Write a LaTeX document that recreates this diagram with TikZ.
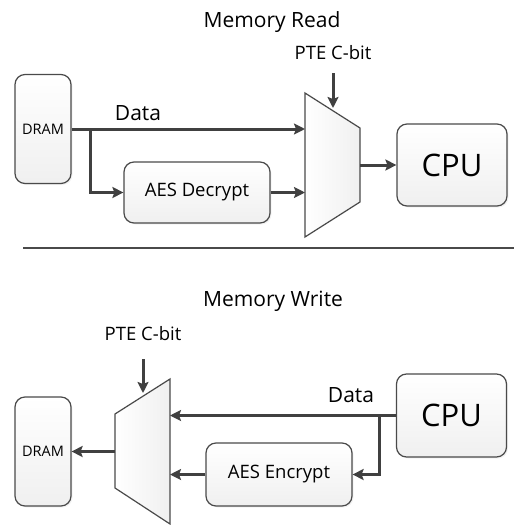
\documentclass[tikz,border=0pt]{standalone}
\usepackage{fontspec}
\setmainfont{Open Sans}
\usetikzlibrary{arrows.meta}
\usetikzlibrary{shadows}

\definecolor{wiregray}{HTML}{404040}
\definecolor{edgegray}{HTML}{4A4A4A}

\begin{document}
\begin{tikzpicture}[x=1pt, y=-1pt,
	block/.style={draw=edgegray, line width=1.2pt, rounded corners=10pt, top color=white, bottom color=black!6,
		inner sep=0pt, drop shadow={opacity=0.1, shadow xshift=1.5pt, shadow yshift=-1.5pt}},
	mux/.style={draw=edgegray, line width=1.2pt, left color=white, right color=black!6},
	flow/.style={draw=wiregray, line width=3pt, -{Stealth[length=11pt, width=11pt, inset=2pt]}},
	bigtext/.style={font=\fontsize{21}{25}\selectfont},
	midtext/.style={font=\fontsize{18.5}{22}\selectfont},
	smalltext/.style={font=\fontsize{14.5}{17}\selectfont},
	cputext/.style={font=\fontsize{31}{36}\selectfont}]
	\useasboundingbox (0,0) rectangle (514,525);

	% memory read
	\node[bigtext, anchor=base] (rtitle) at (272,27) {Memory Read};
	\node[midtext, anchor=base] (rpte) at (333,59.5) {PTE C-bit};
	\node[bigtext, anchor=base] (rdata) at (138,120) {Data};
	\node[block, smalltext, minimum width=56pt, minimum height=109pt] (rdram) at (43,129) {DRAM};
	\node[block, midtext, minimum width=146pt, minimum height=61pt] (raes) at (197,192.5) {AES Decrypt};
	\node[block, cputext, minimum width=110pt, minimum height=82pt] (rcpu) at (452,165) {CPU};

	% read mux
	\draw[mux] (305,93) -- (360,128) -- (360,202) -- (305,237) -- cycle;
	\coordinate (rin1) at (305,129);
	\coordinate (rin2) at (305,192.5);
	\coordinate (rout) at (360,165);
	\coordinate (rsel) at (333,108);
	\coordinate (rselin) at (333,73);
	\coordinate (rsplit) at (90,129);

	\draw[flow] (rdram.east) -- (rin1);
	\draw[flow] (rsplit) |- (raes.west);
	\draw[flow] (raes.east) -- (rin2);
	\draw[flow] (rselin) -- (rsel);
	\draw[flow] (rout) -- (rcpu.west);

	% separator
	\draw[edgegray, line width=1.2pt] (23,248) -- (514,248);

	% memory write
	\node[bigtext, anchor=base] (wtitle) at (273,306) {Memory Write};
	\node[midtext, anchor=base] (wpte) at (143,340.5) {PTE C-bit};
	\node[bigtext, anchor=base] (wdata) at (351,402) {Data};
	\node[block, smalltext, minimum width=56pt, minimum height=109pt] (wdram) at (43,451.5) {DRAM};
	\node[block, midtext, minimum width=146pt, minimum height=63pt] (waes) at (279,474.5) {AES Encrypt};
	\node[block, cputext, minimum width=110pt, minimum height=83pt] (wcpu) at (451.5,415.5) {CPU};

	% write mux
	\draw[mux] (170,379) -- (170,524) -- (115,488) -- (115,414) -- cycle;
	\coordinate (win1) at (170,415.5);
	\coordinate (win2) at (170,474.5);
	\coordinate (wout) at (115,451.5);
	\coordinate (wsel) at (143,393);
	\coordinate (wselin) at (143,359);
	\coordinate (wsplit) at (379,415.5);

	\draw[flow] (wcpu.west) -- (win1);
	\draw[flow] (wsplit) |- (waes.east);
	\draw[flow] (waes.west) -- (win2);
	\draw[flow] (wselin) -- (wsel);
	\draw[flow] (wout) -- (wdram.east);

\end{tikzpicture}
\end{document}
